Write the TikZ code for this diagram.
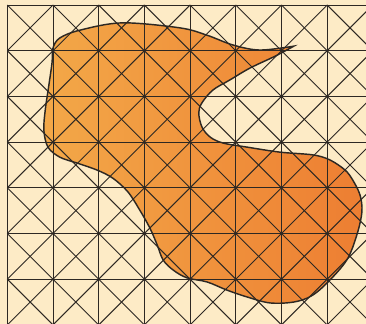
\documentclass[tikz,border=0pt]{standalone}
\usepackage{tikz}
\definecolor{paper}{RGB}{253,235,198}
\definecolor{blobleft}{RGB}{243,168,72}
\definecolor{blobright}{RGB}{237,126,50}
\definecolor{ink}{RGB}{45,40,35}

\begin{document}
\begin{tikzpicture}[gridline/.style={ink, line width=0.6pt},
    outline/.style={ink, line width=0.9pt}]
  \useasboundingbox (-0.16,-6.98) rectangle (7.85,0.11);
  \fill[paper] (-0.16,-6.98) rectangle (7.85,0.11);
  \clip (-0.16,-6.98) rectangle (7.85,0.11);
  % the blob, starting at its pointed tip
  \draw[outline, left color=blobleft, right color=blobright]
    plot[smooth, tension=0.55] coordinates {(6.27,-0.90) (5.86,-1.12) (5.31,-1.38)
      (4.87,-1.64) (4.50,-1.86) (4.26,-2.14) (4.19,-2.36) (4.26,-2.67) (4.44,-2.89)
      (4.72,-3.02) (5.25,-3.11) (5.97,-3.22) (6.69,-3.28) (7.06,-3.39) (7.39,-3.61)
      (7.56,-3.83) (7.72,-4.16) (7.76,-4.53) (7.65,-5.03) (7.43,-5.58) (7.00,-6.08)
      (6.65,-6.37) (6.27,-6.50) (5.75,-6.52) (5.25,-6.39) (4.81,-6.24) (4.37,-6.06)
      (3.93,-5.97) (3.63,-5.80) (3.41,-5.58) (3.28,-5.25) (3.12,-4.88) (2.90,-4.49)
      (2.64,-4.09) (2.31,-3.79) (1.96,-3.61) (1.53,-3.46) (1.15,-3.33) (0.89,-3.11)
      (0.80,-2.74) (0.83,-2.30) (0.91,-1.75) (0.98,-1.25) (1.00,-0.94) (1.15,-0.72)
      (1.59,-0.55) (2.51,-0.39) (3.78,-0.50) (4.37,-0.66) (4.94,-0.875) (5.53,-0.985)
      (6.27,-0.90)} -- cycle;
  % square grid with both diagonals in every cell
  \foreach \i in {0,...,7} {
    \draw[gridline] (\i,0) -- (\i,-7);
    \draw[gridline] (0,-\i) -- (8,-\i);
  }
  \foreach \i in {0,...,7}
    \foreach \j in {0,...,6} {
      \draw[gridline] (\i,-\j) -- ++(1,-1);
      \draw[gridline] (\i+1,-\j) -- ++(-1,-1);
    }
\end{tikzpicture}
\end{document}
